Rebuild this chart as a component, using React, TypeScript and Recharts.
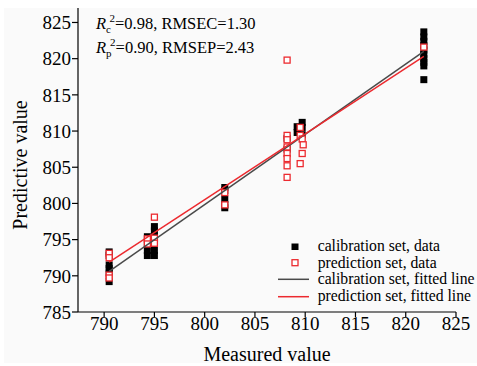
import React from 'react';
import { ScatterChart, Scatter, XAxis, YAxis, Legend } from 'recharts';

const xTicks = [790, 795, 800, 805, 810, 815, 820, 825];
const yTicks = [785, 790, 795, 800, 805, 810, 815, 820, 825];

const calibrationData = [
  [790.5, 793.3], [790.5, 792.8], [790.5, 791.5], [790.5, 791.0], [790.5, 790.4], [790.5, 789.2],
  [794.3, 795.4], [794.3, 794.5], [794.3, 793.5], [794.3, 792.8],
  [795.0, 796.8], [795.0, 796.2], [795.0, 795.5], [795.0, 794.5], [795.0, 793.5], [795.0, 792.8],
  [802.0, 802.2], [802.0, 801.8], [802.0, 800.6], [802.0, 799.8], [802.0, 799.4],
  [808.2, 809.0], [808.2, 807.5],
  [809.2, 810.6], [809.2, 809.8],
  [809.7, 811.2], [809.7, 810.5], [809.7, 809.5],
  [821.8, 823.7], [821.8, 823.0], [821.8, 822.4], [821.8, 821.8], [821.8, 821.2],
  [821.8, 820.6], [821.8, 820.0], [821.8, 819.5], [821.8, 819.0], [821.8, 817.1],
];

const predictionData = [
  [790.5, 793.1], [790.5, 792.5], [790.5, 790.1], [790.5, 789.7],
  [794.3, 795.1], [794.3, 794.4],
  [795.0, 798.1], [795.0, 795.2], [795.0, 794.5],
  [802.0, 801.5], [802.0, 799.8],
  [808.2, 819.8], [808.2, 809.4], [808.2, 808.8], [808.2, 807.8], [808.2, 806.9],
  [808.2, 806.2], [808.2, 805.2], [808.2, 803.6],
  [809.5, 810.5], [809.5, 809.4], [809.7, 808.9], [809.8, 808.1], [809.7, 806.9], [809.5, 805.5],
  [821.8, 821.6],
];

const calibrationFit = [[790.5, 790.6], [821.8, 821.0]];
const predictionFit = [[790.5, 791.9], [821.8, 820.3]];

const toPoints = (arr: number[][]) => arr.map(([x, y]) => ({ x, y }));

const FONT = '"Liberation Serif", "Times New Roman", serif';
const RED = '#ec2a2f';
const GRAY = '#4a4a4a';

const BlackSquare = (props: any) => {
  const { cx, cy } = props;
  if (cx == null || cy == null) return null;
  return <rect x={cx - 3.5} y={cy - 3.5} width={7} height={7} fill="#000" />;
};

const RedSquare = (props: any) => {
  const { cx, cy } = props;
  if (cx == null || cy == null) return null;
  return <rect x={cx - 3} y={cy - 3} width={6} height={6} fill="#fff" stroke={RED} strokeWidth={1.3} />;
};

const NoShape = () => null;

const XTick = (props: any) => {
  const { x, y, payload } = props;
  return (
    <text x={x} y={y} dy="0.71em" textAnchor="middle" fontFamily={FONT} fontSize={19} fill="#000">
      {payload.value}
    </text>
  );
};

const YTick = (props: any) => {
  const { x, y, payload } = props;
  return (
    <text x={x} y={y} dy="0.355em" textAnchor="end" fontFamily={FONT} fontSize={19} fill="#000">
      {payload.value}
    </text>
  );
};

const renderLegend = () => (
  <svg width={207} height={78} style={{ display: 'block', overflow: 'visible' }}>
    <g fontFamily={FONT} fontSize={15.7} fill="#000">
      <rect x={21.5} y={11.5} width={7} height={6.5} fill="#000" />
      <text x={47.7} y={19}>calibration set, data</text>
      <rect x={22} y={27.7} width={6} height={6} fill="#fff" stroke={RED} strokeWidth={1.3} />
      <text x={47.7} y={35.7}>prediction set, data</text>
      <line x1={8} x2={39} y1={47.3} y2={47.3} stroke={GRAY} strokeWidth={1.5} />
      <text x={47.7} y={52.3}>calibration set, fitted line</text>
      <line x1={8} x2={39} y1={64.7} y2={64.7} stroke={RED} strokeWidth={1.5} />
      <text x={47.7} y={69}>prediction set, fitted line</text>
    </g>
  </svg>
);

const XLabel = (props: any) => {
  const vb = props.viewBox || {};
  return (
    <text x={vb.x + vb.width / 2} y={vb.y + vb.height - 5} textAnchor="middle" fontFamily={FONT} fontSize={20} fill="#000">
      Measured value
    </text>
  );
};

const YLabel = () => {
  return (
    <text x={27} y={165} transform="rotate(-90 27 165)" textAnchor="middle" fontFamily={FONT} fontSize={20} fill="#000">
      Predictive value
    </text>
  );
};

export default function App() {
  return (
    <div style={{ position: 'absolute', left: 0, top: 0, width: 477, height: 366, background: '#fff' }}>
      <div style={{ position: 'absolute', left: 4, top: 8, width: 473, height: 355, background: '#fafafa' }} />
      <div style={{ position: 'absolute', left: 0, top: 0 }}>
        <ScatterChart width={477} height={366} margin={{ top: 8, right: 21, bottom: 0, left: 0 }} style={{ fontFamily: FONT }}>
          <XAxis
            type="number"
            dataKey="x"
            domain={[787.4, 825]}
            ticks={xTicks}
            allowDataOverflow
            height={54}
            tickSize={5}
            tickMargin={0}
            axisLine={{ stroke: '#000', strokeWidth: 1.2 }}
            tickLine={{ stroke: '#000', strokeWidth: 1.2 }}
            tick={<XTick />}
            label={<XLabel />}
          />
          <YAxis
            type="number"
            dataKey="y"
            domain={[785, 827]}
            ticks={yTicks}
            allowDataOverflow
            width={78}
            tickSize={6}
            tickMargin={1}
            axisLine={{ stroke: '#000', strokeWidth: 1.2 }}
            tickLine={{ stroke: '#000', strokeWidth: 1.2 }}
            tick={<YTick />}
            label={<YLabel />}
          />
          <Legend
            layout="horizontal"
            verticalAlign="middle"
            align="center"
            content={renderLegend}
            wrapperStyle={{ left: 270, top: 232, width: 207, height: 78 }}
          />
          <Scatter name="calibration set, data" data={toPoints(calibrationData)} shape={BlackSquare} isAnimationActive={false} />
          <Scatter name="prediction set, data" data={toPoints(predictionData)} shape={RedSquare} isAnimationActive={false} />
          <Scatter
            name="calibration set, fitted line"
            data={toPoints(calibrationFit)}
            line={{ stroke: GRAY, strokeWidth: 1.5 }}
            lineType="joint"
            shape={NoShape}
            isAnimationActive={false}
          />
          <Scatter
            name="prediction set, fitted line"
            data={toPoints(predictionFit)}
            line={{ stroke: RED, strokeWidth: 1.5 }}
            lineType="joint"
            shape={NoShape}
            isAnimationActive={false}
          />
          <text x={96} y={29} fontFamily={FONT} fontSize={16.5} fill="#000">
            <tspan fontStyle="italic">R</tspan>
            <tspan fontSize={11} dy={4}>c</tspan>
            <tspan fontSize={11} dy={-11} dx={-1.5}>2</tspan>
            <tspan dy={7}>=0.98, RMSEC=1.30</tspan>
          </text>
          <text x={96} y={53} fontFamily={FONT} fontSize={16.5} fill="#000">
            <tspan fontStyle="italic">R</tspan>
            <tspan fontSize={11} dy={4}>p</tspan>
            <tspan fontSize={11} dy={-11} dx={-1.5}>2</tspan>
            <tspan dy={7}>=0.90, RMSEP=2.43</tspan>
          </text>
        </ScatterChart>
      </div>
    </div>
  );
}
